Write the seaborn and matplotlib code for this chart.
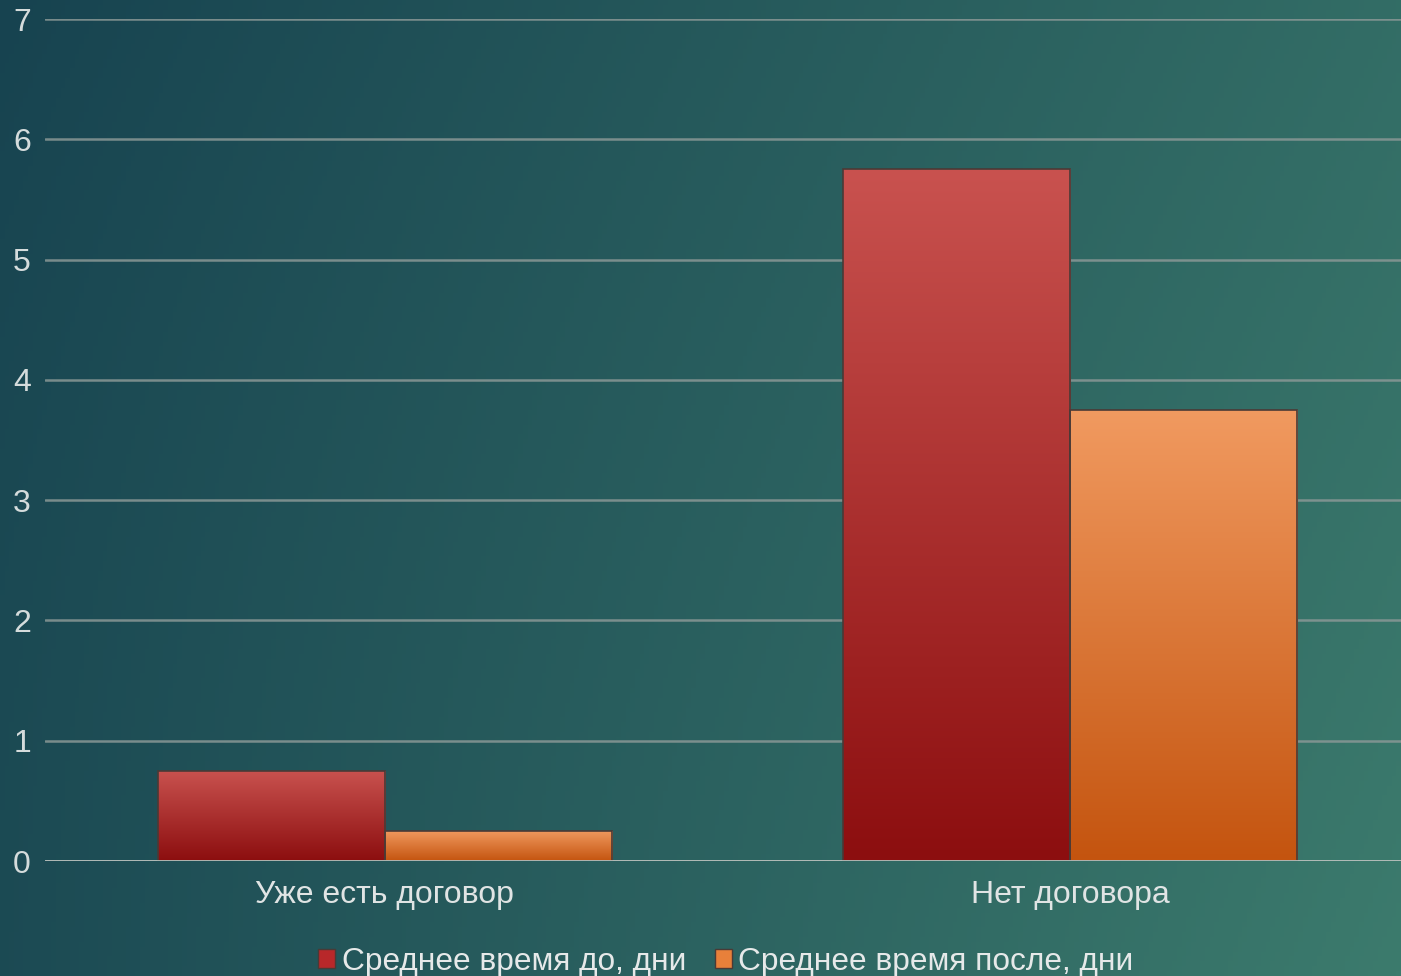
import numpy as np
import pandas as pd
import matplotlib
matplotlib.use('Agg')
import matplotlib.pyplot as plt
import seaborn as sns
from matplotlib.colors import LinearSegmentedColormap
from matplotlib.patches import Patch

# data
categories = ['Уже есть договор', 'Нет договора']
series = ['Среднее время до, дни', 'Среднее время после, дни']
before_days = [0.75, 5.75]
after_days = [0.25, 3.75]

df = pd.DataFrame({
    'group': categories * 2,
    'series': [series[0]] * 2 + [series[1]] * 2,
    'value': before_days + after_days,
})

sns.set_theme(style='white')
plt.rcParams['font.family'] = ['Liberation Sans', 'DejaVu Sans']

fig = plt.figure(figsize=(14.01, 9.76), dpi=100)

# background gradient (dark teal top-left -> lighter green-teal right)
bg = fig.add_axes([0, 0, 1, 1], zorder=-10)
xx, yy = np.meshgrid(np.linspace(0, 1, 300), np.linspace(0, 1, 200))
dark = np.array([0x17, 0x43, 0x50]) / 255
light = np.array([0x3c, 0x7b, 0x6d]) / 255
t = np.clip(0.75 * xx + 0.25 * yy, 0, 1)  # yy=0 at top
t = t - 0.12 * (yy ** 2) * (1 - xx)
t = np.clip(t, 0, 1)
img = dark[None, None, :] * (1 - t[..., None]) + light[None, None, :] * t[..., None]
bg.imshow(img, aspect='auto', extent=[0, 1, 0, 1], origin='upper')
bg.set_axis_off()

ax = fig.add_axes([0.032, 0.1178, 0.968, 0.8627])
ax.set_facecolor('none')

palette = {series[0]: '#b02a2a', series[1]: '#e07030'}
sns.barplot(data=df, x='group', y='value', hue='series', palette=palette,
            width=0.663, order=categories, hue_order=series, ax=ax,
            edgecolor='#4a3a36', linewidth=1.2, legend=False, zorder=3)

ax.set_ylim(0, 7)
ax.set_yticks(range(0, 8))
ax.set_xlabel('')
ax.set_ylabel('')

for s in ax.spines.values():
    s.set_visible(False)
ax.grid(axis='y', color='#8a9896', linewidth=1.8, alpha=0.85, zorder=1)
ax.axhline(0, color='#b8c0bc', linewidth=2, zorder=4)

ax.tick_params(axis='y', labelsize=23, colors='#d5dcdc', length=0, pad=10)
ax.tick_params(axis='x', labelsize=23, colors='#e0e4e4', length=0, pad=14)

# vertical gradients inside bars
grad_colors = {
    0: ('#8c0e0f', '#c9524f'),
    1: ('#c4540f', '#f19a60'),
}
for i, p in enumerate(list(ax.patches)):
    k = 0 if i < len(categories) else 1
    cmap = LinearSegmentedColormap.from_list('g%d' % i, grad_colors[k])
    x0, y0 = p.get_x(), p.get_y()
    w, h = p.get_width(), p.get_height()
    grad = np.linspace(0, 1, 256).reshape(-1, 1)
    im = ax.imshow(grad, cmap=cmap, aspect='auto', origin='lower',
                   extent=[x0, x0 + w, y0, y0 + h], zorder=2.9)
    im.set_clip_path(p)
    p.set_facecolor('none')
ax.set_xlim(-0.496, 1.483)
ax.set_ylim(0, 7)

legend_colors = ['#b8282a', '#e8803a']
handles = [Patch(facecolor=legend_colors[k], edgecolor='#4a3a36', label=series[k]) for k in range(2)]
fig.legend(handles=handles, loc='lower center', bbox_to_anchor=(0.518, -0.03), ncol=2,
           frameon=False, fontsize=22.8, labelcolor='#e6e9e9', handlelength=0.55,
           handleheight=0.55, handletextpad=0.2, columnspacing=0.9)

fig.savefig('out.png', dpi=100)
